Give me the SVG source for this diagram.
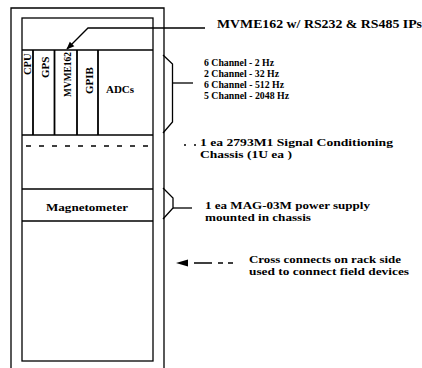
<svg xmlns="http://www.w3.org/2000/svg" width="422" height="368" viewBox="0 0 422 368">
<style>
.ln{stroke:#000;stroke-width:1.3;fill:none}
.thk{stroke:#000;stroke-width:1.8;fill:none}
.t{font-family:"Liberation Serif","Times New Roman",serif;font-weight:bold;fill:#000}
.r{font-size:11px}
</style>
<defs>
<marker id="ah" viewBox="0 0 10 10" refX="9" refY="5" markerWidth="8" markerHeight="8" markerUnits="userSpaceOnUse" orient="auto"><path d="M0,1 L10,5 L0,9 z" fill="#000"/></marker>
</defs>
<rect width="422" height="368" fill="#fff"/>
<g id="rack">
<path class="ln" d="M11,368 V8 H164 V368"/>
<rect class="ln" x="22" y="18" width="131" height="343"/>
<line class="ln" x1="22" y1="50" x2="153" y2="50"/>
</g>
<g id="cards">
<line class="thk" x1="33" y1="50" x2="33" y2="135"/>
<line class="thk" x1="54.5" y1="50" x2="54.5" y2="135"/>
<line class="thk" x1="77" y1="50" x2="77" y2="135"/>
<line class="thk" x1="98" y1="50" x2="98" y2="135"/>
<line class="ln" x1="22" y1="135" x2="153" y2="135"/>
<text class="t" font-size="10.5" transform="translate(30.5,75) rotate(-90)">CPU</text>
<text class="t" font-size="11" transform="translate(49,78) rotate(-90)">GPS</text>
<text class="t" font-size="11" transform="translate(70.5,97) rotate(-90)" textLength="45" lengthAdjust="spacingAndGlyphs">MVME162</text>
<text class="t" font-size="11" transform="translate(92.5,94) rotate(-90)">GPIB</text>
<text class="t" font-size="11" x="120" y="93" text-anchor="middle">ADCs</text>
</g>
<g id="signal-conditioning">
<line class="ln" x1="26" y1="146" x2="150" y2="146" stroke-dasharray="5 8"/>
</g>
<g id="magnetometer">
<line class="ln" x1="22" y1="189" x2="153" y2="189"/>
<line class="ln" x1="22" y1="221" x2="153" y2="221"/>
<text class="t" font-size="11" x="87" y="211" text-anchor="middle" textLength="82" lengthAdjust="spacingAndGlyphs">Magnetometer</text>
</g>
<g id="connectors">
<path class="ln" d="M205,28 H88 L67,49" marker-end="url(#ah)"/>
<path class="ln" d="M163,55 L172.5,64 V122 L163,133"/>
<line class="ln" x1="172.5" y1="83" x2="193" y2="83"/>
<line class="ln" x1="184" y1="145" x2="186" y2="145"/>
<line class="ln" x1="194" y1="145" x2="196" y2="145"/>
<path class="ln" d="M163,188 L173,198 V208 L163,219"/>
<line class="ln" x1="173" y1="208" x2="192" y2="208"/>
<path d="M176,263 L188,259.5 V266.5 z" fill="#000"/>
<path class="ln" d="M194,263 H212 M218,263 H223 M228,263 H233"/>
</g>
<g id="labels">
<text class="t" font-size="12" x="217" y="28" textLength="205" lengthAdjust="spacingAndGlyphs">MVME162 w/ RS232 &amp; RS485 IPs</text>
<text class="t r" x="204" y="66" textLength="70" lengthAdjust="spacingAndGlyphs">6 Channel - 2 Hz</text>
<text class="t r" x="204" y="77" textLength="75" lengthAdjust="spacingAndGlyphs">2 Channel - 32 Hz</text>
<text class="t r" x="204" y="88" textLength="80" lengthAdjust="spacingAndGlyphs">6 Channel - 512 Hz</text>
<text class="t r" x="204" y="99" textLength="85" lengthAdjust="spacingAndGlyphs">5 Channel - 2048 Hz</text>
<text class="t r" x="200" y="146" textLength="193" lengthAdjust="spacingAndGlyphs">1 ea  2793M1 Signal Conditioning</text>
<text class="t r" x="200" y="158" textLength="92" lengthAdjust="spacingAndGlyphs">Chassis (1U ea )</text>
<text class="t r" x="205" y="209" textLength="165" lengthAdjust="spacingAndGlyphs">1 ea  MAG-03M power supply</text>
<text class="t r" x="205" y="221" textLength="106" lengthAdjust="spacingAndGlyphs">mounted in chassis</text>
<text class="t r" x="249" y="263" textLength="152" lengthAdjust="spacingAndGlyphs">Cross connects on rack side</text>
<text class="t r" x="249" y="275" textLength="160" lengthAdjust="spacingAndGlyphs">used to connect field devices</text>
</g>
</svg>
